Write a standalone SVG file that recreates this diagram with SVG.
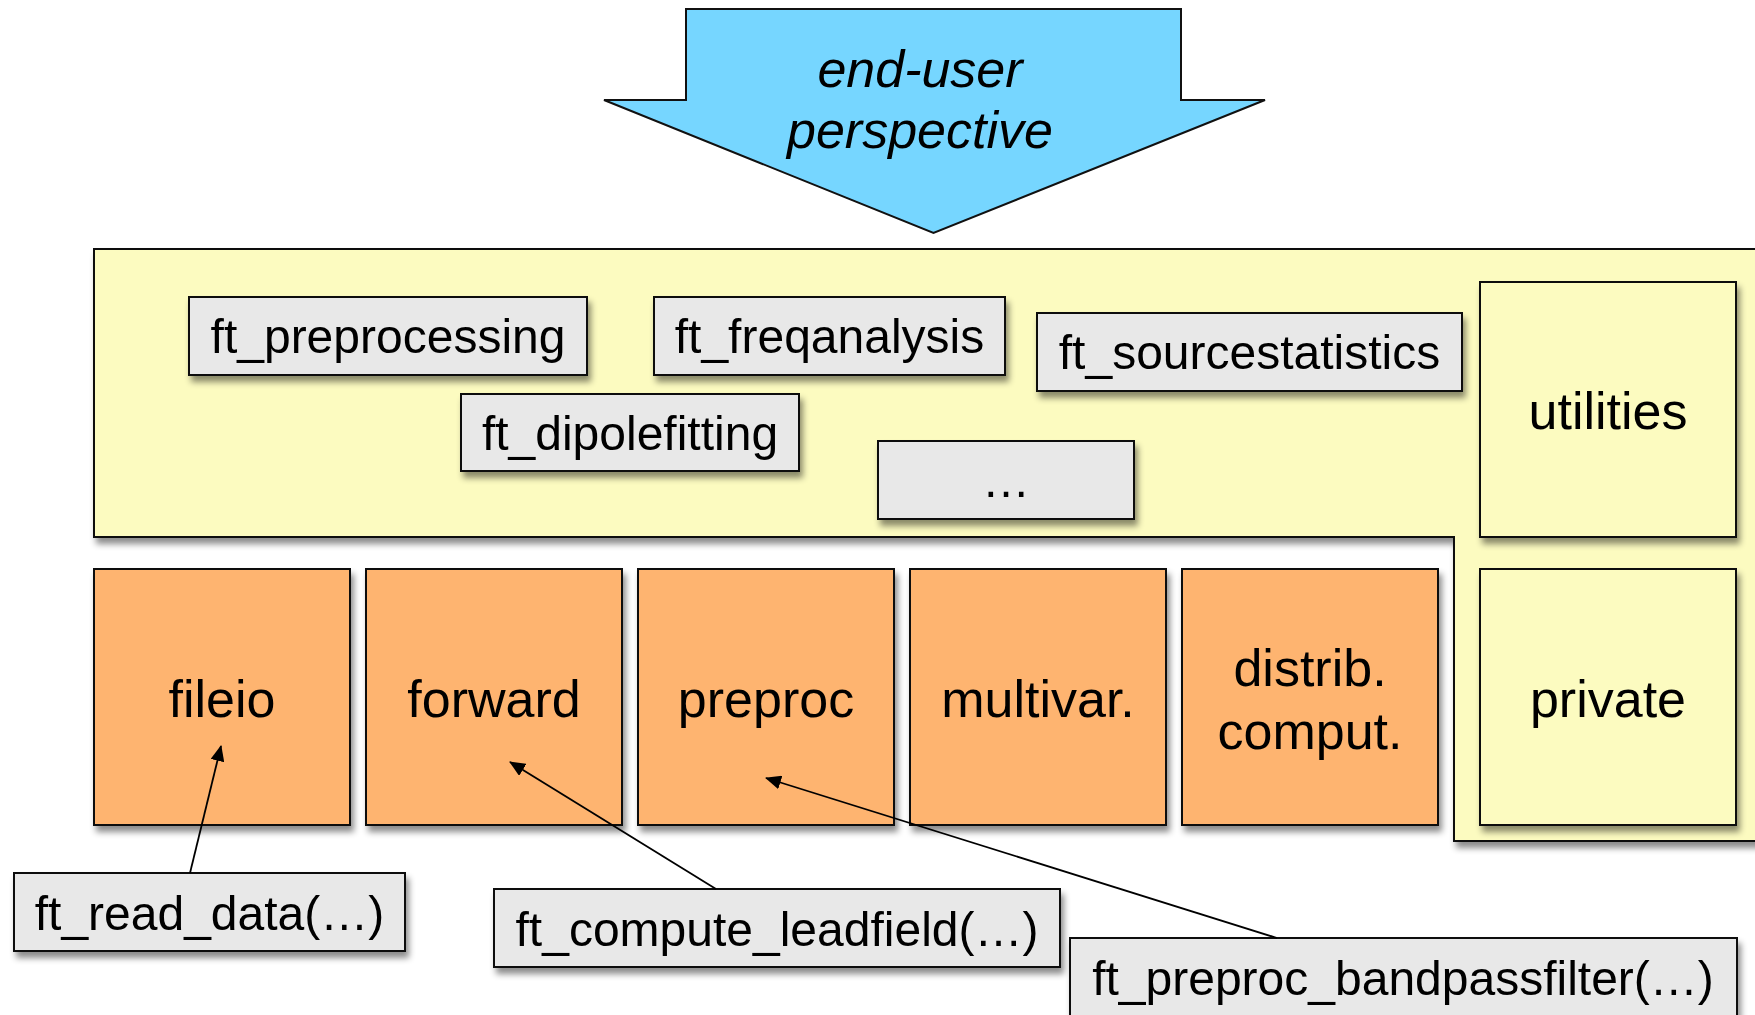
<svg xmlns="http://www.w3.org/2000/svg" width="1755" height="1015" viewBox="0 0 1755 1015">
  <defs>
    <filter id="sh" x="-10%" y="-10%" width="130%" height="130%">
      <feDropShadow dx="3" dy="6" stdDeviation="3" flood-color="#000" flood-opacity="0.45"/>
    </filter>
    <marker id="ah" viewBox="0 0 16 14" refX="15" refY="7" markerWidth="16" markerHeight="14" markerUnits="userSpaceOnUse" orient="auto">
      <path d="M0,0 L16,7 L0,14 Z" fill="#000"/>
    </marker>
    <style>
      .gray { fill: #e8e8e8; stroke: #111; stroke-width: 2; }
      .org { fill: #feb46f; stroke: #111; stroke-width: 2; }
      .yel { fill: #fcfbc0; stroke: #111; stroke-width: 2; }
      .t48 { font-family: "Liberation Sans", Arial, sans-serif; font-size: 48px; fill: #000; text-anchor: middle; }
      .t52 { font-family: "Liberation Sans", Arial, sans-serif; font-size: 52px; fill: #000; text-anchor: middle; }
      .ti { font-family: "Liberation Sans", Arial, sans-serif; font-size: 52px; font-style: italic; fill: #000; text-anchor: middle; }
      .conn { stroke: #000; stroke-width: 1.8; fill: none; marker-end: url(#ah); }
    </style>
  </defs>
  <rect width="1755" height="1015" fill="#fff"/>

  <g id="end-user-arrow">
    <polygon points="686,9 1181,9 1181,100 1265,100 933.5,233 604,100 686,100" fill="#76d6ff" stroke="#111" stroke-width="2"/>
    <text class="ti" x="920" y="87">end-user</text>
    <text class="ti" x="920" y="148">perspective</text>
  </g>

  <g id="main-area" filter="url(#sh)">
    <polygon class="yel" points="94,249 1762,249 1762,841 1454,841 1454,537 94,537"/>
  </g>

  <g id="ft_preprocessing" filter="url(#sh)">
    <rect class="gray" x="189" y="297" width="398" height="78"/>
    <text class="t48" x="388" y="353">ft_preprocessing</text>
  </g>
  <g id="ft_freqanalysis" filter="url(#sh)">
    <rect class="gray" x="654" y="297" width="351" height="78"/>
    <text class="t48" x="829.5" y="353">ft_freqanalysis</text>
  </g>
  <g id="ft_sourcestatistics" filter="url(#sh)">
    <rect class="gray" x="1037" y="313" width="425" height="78"/>
    <text class="t48" x="1249.5" y="369">ft_sourcestatistics</text>
  </g>
  <g id="ft_dipolefitting" filter="url(#sh)">
    <rect class="gray" x="461" y="394" width="338" height="77"/>
    <text class="t48" x="630" y="450">ft_dipolefitting</text>
  </g>
  <g id="more" filter="url(#sh)">
    <rect class="gray" x="878" y="441" width="256" height="78"/>
    <text class="t48" x="1006" y="497">…</text>
  </g>
  <g id="utilities" filter="url(#sh)">
    <rect class="yel" x="1480" y="282" width="256" height="255"/>
    <text class="t52" x="1608" y="429">utilities</text>
  </g>

  <g id="fileio" filter="url(#sh)">
    <rect class="org" x="94" y="569" width="256" height="256"/>
    <text class="t52" x="222" y="717">fileio</text>
  </g>
  <g id="forward" filter="url(#sh)">
    <rect class="org" x="366" y="569" width="256" height="256"/>
    <text class="t52" x="494" y="717">forward</text>
  </g>
  <g id="preproc" filter="url(#sh)">
    <rect class="org" x="638" y="569" width="256" height="256"/>
    <text class="t52" x="766" y="717">preproc</text>
  </g>
  <g id="multivar" filter="url(#sh)">
    <rect class="org" x="910" y="569" width="256" height="256"/>
    <text class="t52" x="1038" y="717">multivar.</text>
  </g>
  <g id="distrib" filter="url(#sh)">
    <rect class="org" x="1182" y="569" width="256" height="256"/>
    <text class="t52" x="1310" y="686">distrib.</text>
    <text class="t52" x="1310" y="749">comput.</text>
  </g>
  <g id="private" filter="url(#sh)">
    <rect class="yel" x="1480" y="569" width="256" height="256"/>
    <text class="t52" x="1608" y="717">private</text>
  </g>

  <g id="ft_read_data" filter="url(#sh)">
    <rect class="gray" x="14" y="873" width="391" height="78"/>
    <text class="t48" x="209.5" y="930">ft_read_data(…)</text>
  </g>
  <g id="ft_compute_leadfield" filter="url(#sh)">
    <rect class="gray" x="494" y="889" width="566" height="78"/>
    <text class="t48" x="777" y="946">ft_compute_leadfield(…)</text>
  </g>
  <g id="ft_preproc_bandpassfilter" filter="url(#sh)">
    <rect class="gray" x="1070" y="938" width="667" height="78"/>
    <text class="t48" x="1403" y="995">ft_preproc_bandpassfilter(…)</text>
  </g>

  <g id="connectors">
    <line class="conn" x1="190" y1="873" x2="221" y2="746"/>
    <line class="conn" x1="716" y1="889" x2="510" y2="762"/>
    <line class="conn" x1="1277" y1="938" x2="766" y2="778"/>
  </g>
</svg>
